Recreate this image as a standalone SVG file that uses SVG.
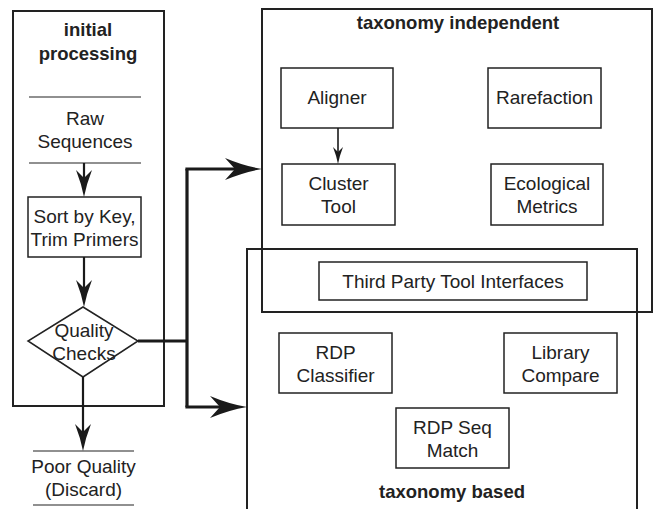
<svg xmlns="http://www.w3.org/2000/svg" width="654" height="509" viewBox="0 0 654 509">
  <style>
    text { font-family: "Liberation Sans", Arial, sans-serif; font-size: 19px; fill: #222; text-anchor: middle; }
    .title { font-weight: bold; font-size: 18.5px; }
    .frame { fill: none; stroke: #222; stroke-width: 2; }
    .box { fill: #fff; stroke: #222; stroke-width: 1.5; }
    .rule { stroke: #222; stroke-width: 1.2; }
    .flow { fill: none; stroke: #1a1a1a; stroke-width: 2.2; }
    .thick { fill: none; stroke: #1a1a1a; stroke-width: 3.2; }
    .thin { fill: none; stroke: #1a1a1a; stroke-width: 1.6; }
    .head { fill: #1a1a1a; stroke: none; }
  </style>
  <defs>
    <marker id="bigHead" markerUnits="userSpaceOnUse" viewBox="-38 -12 38 24" markerWidth="38" markerHeight="24" refX="-10" refY="0" orient="auto">
      <path class="head" d="M0,0 Q-18,-3 -37,-11 L-27,0 L-37,11 Q-18,3 0,0 Z"/>
    </marker>
    <marker id="midHead" markerUnits="userSpaceOnUse" viewBox="-28 -9 28 18" markerWidth="28" markerHeight="18" refX="-8" refY="0" orient="auto">
      <path class="head" d="M0,0 Q-13,-2.5 -27,-8 L-19,0 L-27,8 Q-13,2.5 0,0 Z"/>
    </marker>
    <marker id="smallHead" markerUnits="userSpaceOnUse" viewBox="-18 -6 18 12" markerWidth="18" markerHeight="12" refX="-5" refY="0" orient="auto">
      <path class="head" d="M0,0 Q-8,-1.5 -17,-5 L-12,0 L-17,5 Q-8,1.5 0,0 Z"/>
    </marker>
  </defs>

  <!-- group frames -->
  <g id="initial-processing">
    <rect class="frame" x="13" y="11" width="151" height="395"/>
    <text class="title" x="88" y="36">initial</text>
    <text class="title" x="88" y="60">processing</text>
  </g>
  <g id="taxonomy-independent">
    <rect class="frame" x="262" y="9" width="390" height="303"/>
    <text class="title" x="458" y="29">taxonomy independent</text>
  </g>
  <g id="taxonomy-based">
    <path class="frame" d="M247,512 V249 H637 V512"/>
    <text class="title" x="452" y="498">taxonomy based</text>
  </g>

  <!-- nodes -->
  <g id="raw-sequences">
    <line class="rule" x1="29" y1="97" x2="141" y2="97"/>
    <text x="85" y="125">Raw</text>
    <text x="85" y="148">Sequences</text>
    <line class="rule" x1="29" y1="163" x2="141" y2="163"/>
  </g>
  <g id="sort-trim">
    <rect class="box" x="28" y="197" width="113" height="60"/>
    <text x="84.5" y="223">Sort by Key,</text>
    <text x="84.5" y="246">Trim Primers</text>
  </g>
  <g id="quality-checks">
    <polygon class="box" points="83,307 138,341 83,377 28,341"/>
    <text x="84" y="337">Quality</text>
    <text x="84" y="360">Checks</text>
  </g>
  <g id="poor-quality">
    <line class="rule" x1="33" y1="451" x2="134" y2="451"/>
    <text x="83.5" y="473">Poor Quality</text>
    <text x="83.5" y="496">(Discard)</text>
    <line class="rule" x1="33" y1="505" x2="134" y2="505"/>
  </g>
  <g id="aligner">
    <rect class="box" x="281" y="68" width="112" height="60"/>
    <text x="337" y="104">Aligner</text>
  </g>
  <g id="rarefaction">
    <rect class="box" x="488" y="68" width="113" height="60"/>
    <text x="544.5" y="104">Rarefaction</text>
  </g>
  <g id="cluster-tool">
    <rect class="box" x="282" y="164" width="113" height="61"/>
    <text x="338.5" y="190">Cluster</text>
    <text x="338.5" y="213">Tool</text>
  </g>
  <g id="ecological-metrics">
    <rect class="box" x="491" y="164" width="112" height="61"/>
    <text x="547" y="190">Ecological</text>
    <text x="547" y="213">Metrics</text>
  </g>
  <g id="third-party">
    <rect class="box" x="319" y="262" width="268" height="38"/>
    <text x="453" y="288">Third Party Tool Interfaces</text>
  </g>
  <g id="rdp-classifier">
    <rect class="box" x="279" y="333" width="113" height="60"/>
    <text x="335.5" y="359">RDP</text>
    <text x="335.5" y="382">Classifier</text>
  </g>
  <g id="library-compare">
    <rect class="box" x="504" y="333" width="113" height="60"/>
    <text x="560.5" y="359">Library</text>
    <text x="560.5" y="382">Compare</text>
  </g>
  <g id="rdp-seq-match">
    <rect class="box" x="396" y="408" width="113" height="60"/>
    <text x="452.5" y="434">RDP Seq</text>
    <text x="452.5" y="457">Match</text>
  </g>

  <!-- connectors -->
  <g id="connectors">
    <path class="flow" d="M84,163 V189" marker-end="url(#midHead)"/>
    <path class="flow" d="M84,257 V299" marker-end="url(#midHead)"/>
    <path class="flow" d="M83,377 V443" marker-end="url(#midHead)"/>
    <path class="thick" d="M138,341 H187"/>
    <path class="thick" d="M187,169 V407"/>
    <path class="thick" d="M185.4,169 H252" marker-end="url(#bigHead)"/>
    <path class="thick" d="M185.4,407 H237" marker-end="url(#bigHead)"/>
    <path class="thin" d="M338,128 V159" marker-end="url(#smallHead)"/>
  </g>
</svg>
